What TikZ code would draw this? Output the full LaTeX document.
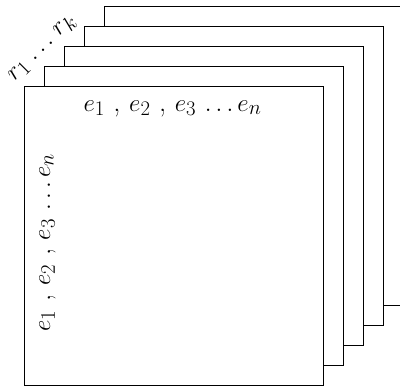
\documentclass[tikz,border=0pt]{standalone}
\begin{document}
\begin{tikzpicture}[x=1pt,y=-1pt,
  sheet/.style={draw, fill=white, line width=0.9pt, rectangle, inner sep=0pt,
    minimum width=299pt, minimum height=299pt, anchor=north west},
  lbl/.style={font=\fontsize{28.5}{34}\selectfont, inner sep=0pt}]
\useasboundingbox (0,0) rectangle (400,386);
\foreach \i in {4,3,2,1,0} {
  \node[sheet] (s\i) at ({24+20*\i},{86-20*\i}) {};
}
\node[lbl, anchor=base] (top) at (172.5,111) {$e_1$ , $e_2$ , $e_3$ $\ldots e_n$};
\node[lbl, anchor=base, rotate=90] (side) at (50,242.5) {$e_1$ , $e_2$ , $e_3$ $\ldots e_n$};
\node[lbl, rotate=45] (rk) at (43,49) {$r_1 \mkern2mu\ldots\mkern2mu r_k$};
\end{tikzpicture}
\end{document}
